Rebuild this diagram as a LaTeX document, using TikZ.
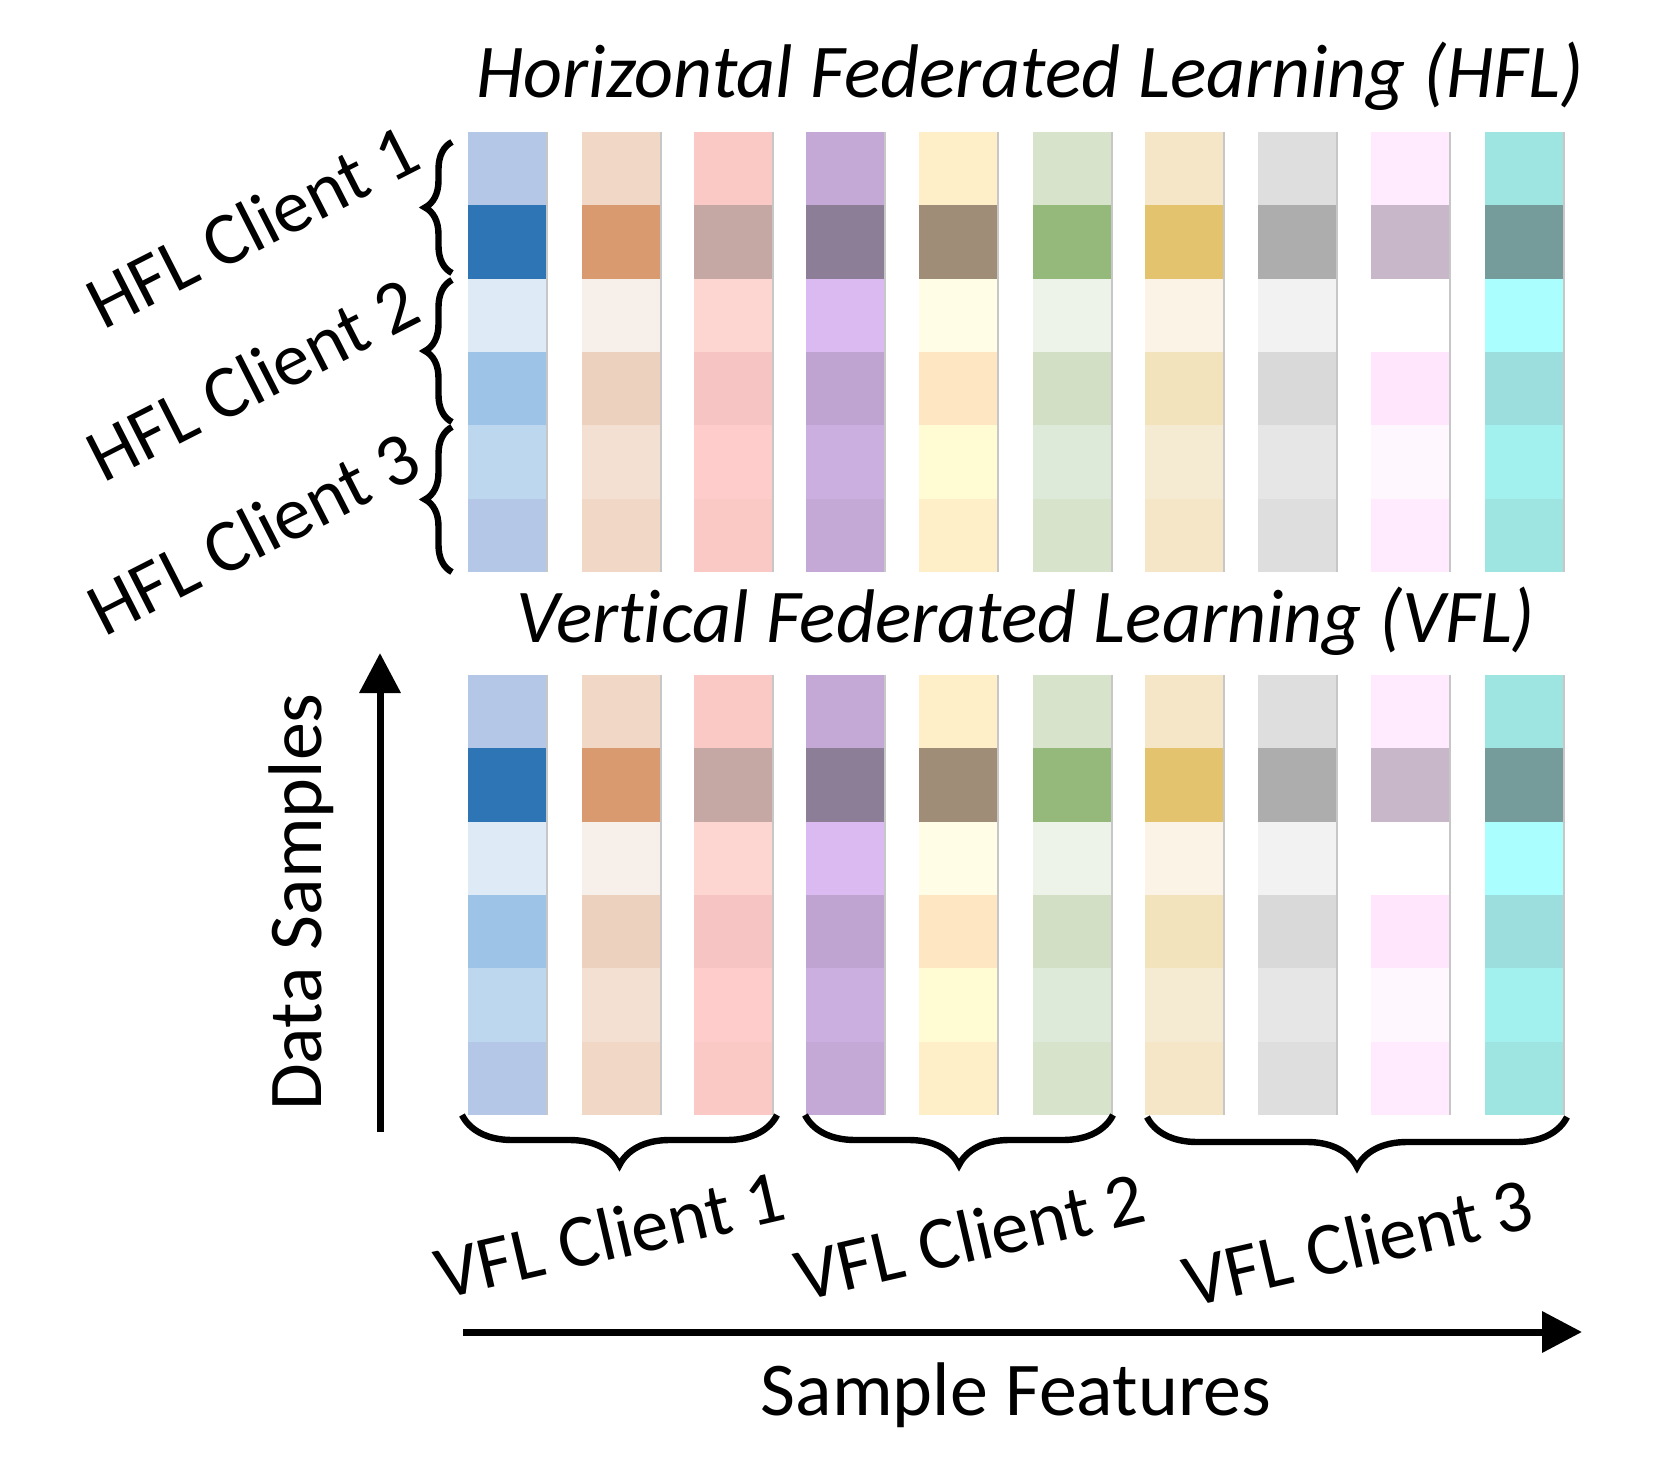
\documentclass[tikz,border=0pt]{standalone}
\usepackage{fontspec}
\setmainfont{Carlito}[Ligatures=NoCommon]
\usetikzlibrary{arrows.meta,decorations.pathreplacing}
\tikzset{%
  headtext/.style    = {font=\fontsize{38}{45}\selectfont\itshape, inner sep=0pt},%
  clienttext/.style  = {font=\fontsize{37.5}{45}\selectfont, inner sep=0pt},%
  axistext/.style    = {font=\fontsize{38}{45}\selectfont, inner sep=0pt},%
  clientbrace/.style = {decorate, line width=3.2pt,%
                        decoration={brace, amplitude=#1}},%
  clientbrace/.default = 25pt,%
  axisarrow/.style   = {line width=3.5pt, -{Triangle[width=20pt,length=20pt]}},%
  featedge/.style    = {line width=0.6pt, black!22}%
}
% one feature column, drawn in both grids: x, then six row colours
\newcommand{\featcol}[7]{%
  \definecolor{rowA}{HTML}{#2}\definecolor{rowB}{HTML}{#3}%
  \definecolor{rowC}{HTML}{#4}\definecolor{rowD}{HTML}{#5}%
  \definecolor{rowE}{HTML}{#6}\definecolor{rowF}{HTML}{#7}%
  \foreach \gy in {132,675}{%
    \foreach \rc [count=\r from 0] in {rowA,rowB,rowC,rowD,rowE,rowF}
      \fill[\rc] (#1,\gy+73.33*\r) rectangle ++(79,73.33);
    \draw[featedge] (#1+79,\gy) -- ++(0,440);
  }%
}
\begin{document}
\begin{tikzpicture}[x=0.5pt, y=-0.5pt]
	\useasboundingbox (0,0) rectangle (1661,1482);
	% feature columns
	\featcol{468}{B4C7E7}{2E75B6}{DEEBF7}{9DC3E6}{BDD7EE}{B4C7E7}
	\featcol{582}{F0D7C6}{D89A6E}{F7EFE9}{EDD1BF}{F3E0D3}{F0D7C6}
	\featcol{694}{FBC9C5}{C5A8A4}{FDD5D1}{F6C4C2}{FECDCB}{FBC9C5}
	\featcol{806}{C4A8D5}{8D7E97}{DBB9F1}{BFA4D1}{CBAFE0}{C4A8D5}
	\featcol{919}{FEEFC9}{A08D77}{FFFDE5}{FFE6C2}{FFFCD3}{FEEFC9}
	\featcol{1033}{D7E3CB}{95B87B}{EEF3EA}{D2DFC5}{DEEAD9}{D7E3CB}
	\featcol{1145}{F4E6C6}{E4C36E}{FAF3E6}{F2E3BC}{F5EBD2}{F4E6C6}
	\featcol{1258}{DEDEDE}{ADADAD}{F2F2F2}{D9D9D9}{E6E6E6}{DEDEDE}
	\featcol{1371}{FFEBFD}{C8B6C9}{FFFFFF}{FFE6FD}{FEF7FE}{FFEBFD}
	\featcol{1485}{9EE5E2}{759C9A}{AAFFFE}{9BDEDD}{A3F1EF}{9EE5E2}
	% titles
	\node[headtext, anchor=base] (hfltitle) at (1030,98) {Horizontal Federated Learning (HFL)};
	\node[headtext, anchor=base] (vfltitle) at (1026,642) {Vertical Federated Learning (VFL)};
	% HFL clients
	\draw[clientbrace=13.5pt] (452,273) -- (452,142);
	\draw[clientbrace=13.5pt] (452,422) -- (452,280);
	\draw[clientbrace=13.5pt] (452,572) -- (452,427);
	\node[clienttext, rotate=27] (hflc1) at (252,226) {HFL Client 1};
	\node[clienttext, rotate=27] (hflc2) at (252,379) {HFL Client 2};
	\node[clienttext, rotate=27] (hflc3) at (253,533) {HFL Client 3};
	% VFL clients
	\draw[clientbrace] (777,1115) -- (462,1115);
	\draw[clientbrace] (1113,1115) -- (805,1115);
	\draw[clientbrace] (1567,1117) -- (1147,1117);
	\node[clienttext, rotate=13] (vflc1) at (610,1234) {VFL Client 1};
	\node[clienttext, rotate=13] (vflc2) at (970,1236) {VFL Client 2};
	\node[clienttext, rotate=13] (vflc3) at (1358,1242) {VFL Client 3};
	% axes
	\coordinate (ds0) at (380,1132);
	\coordinate (ds1) at (380,653);
	\draw[axisarrow] (ds0) -- (ds1);
	\node[axistext, rotate=90] (dslabel) at (301,902) {Data Samples};
	\coordinate (sf0) at (463,1332);
	\coordinate (sf1) at (1582,1332);
	\draw[axisarrow] (sf0) -- (sf1);
	\node[axistext, anchor=base] (sflabel) at (1016,1415) {Sample Features};
\end{tikzpicture}
\end{document}
